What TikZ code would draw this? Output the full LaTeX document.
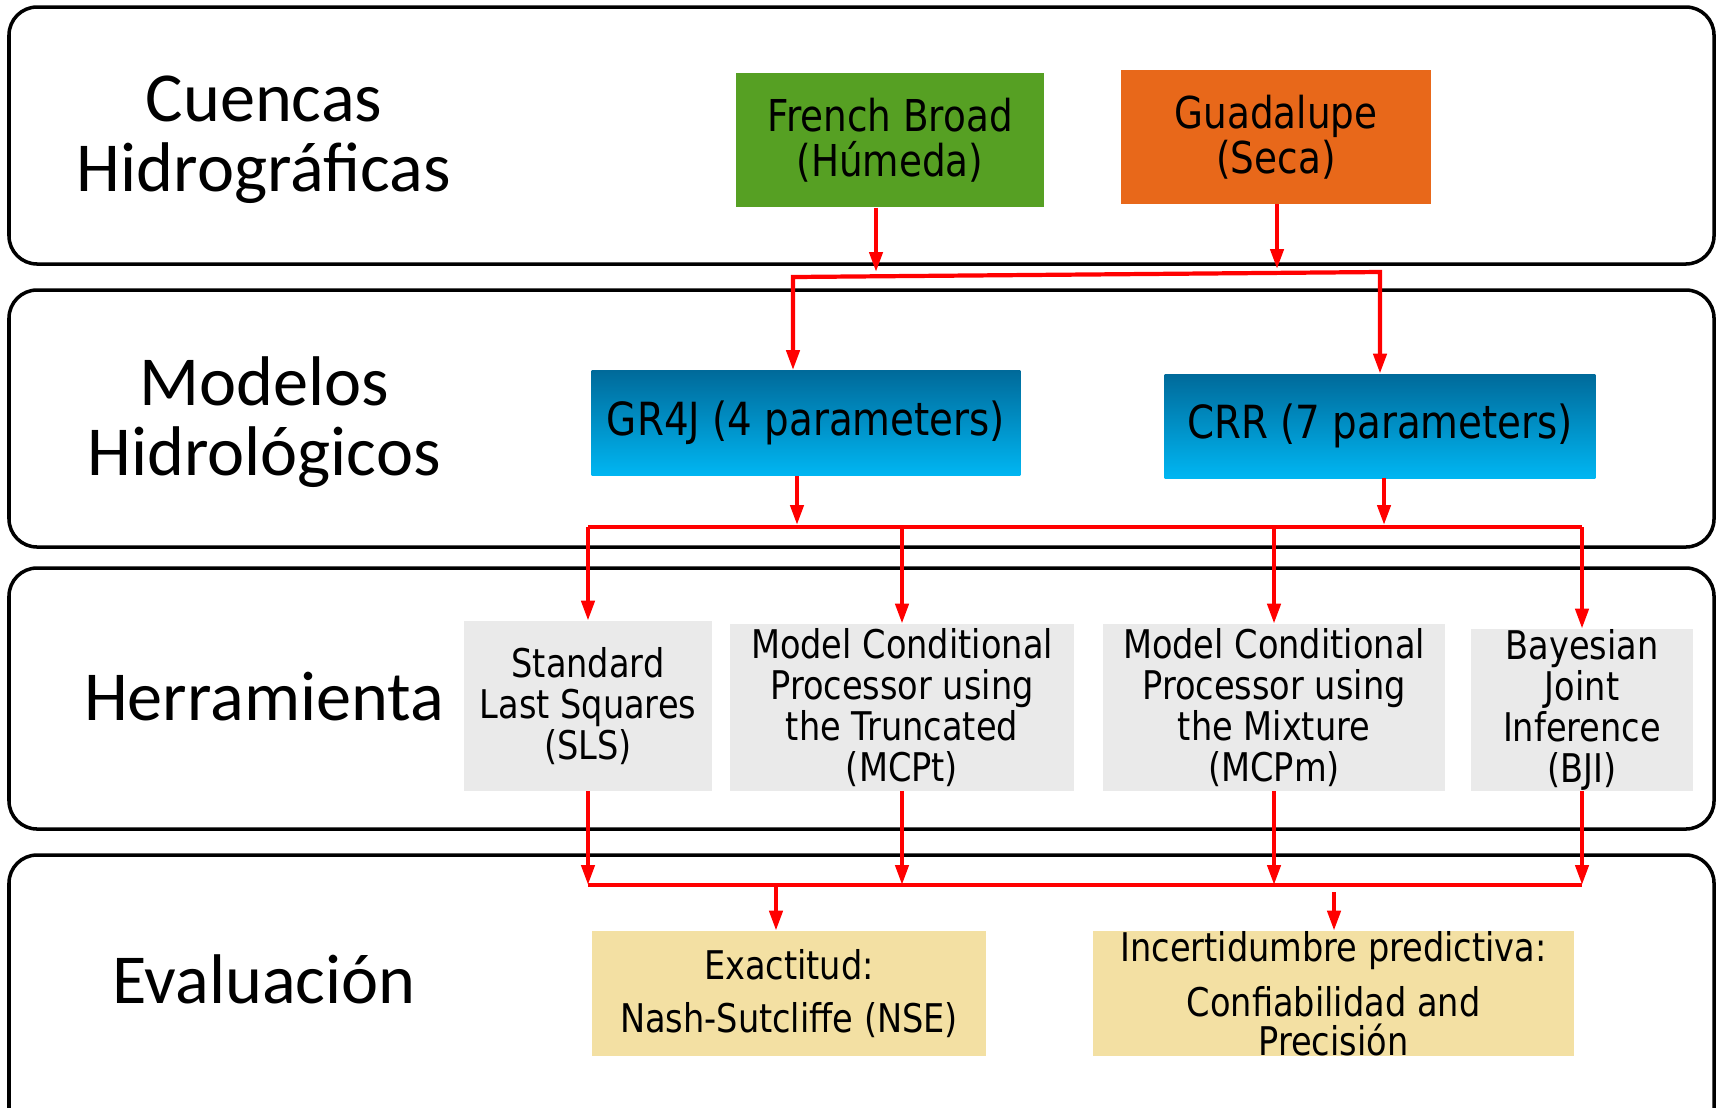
\documentclass[tikz,border=0pt]{standalone}
\usepackage{fontspec}
\usetikzlibrary{arrows.meta}
\setmainfont{Carlito}
\newfontfamily\boxfont[FakeStretch=0.85]{DejaVu Sans}
\definecolor{humeda}{RGB}{86,160,35}
\definecolor{seca}{RGB}{232,104,26}
\definecolor{modtop}{RGB}{0,106,154}
\definecolor{modbot}{RGB}{0,182,242}
\definecolor{toolgray}{RGB}{234,234,234}
\definecolor{evaltan}{RGB}{243,224,163}
\definecolor{flowred}{RGB}{255,0,0}

\begin{document}
\begin{tikzpicture}[x=0.02cm, y=-0.02cm]
        \tikzstyle{band}=[draw=black, line width=2pt, rounded corners=16pt]
        \tikzstyle{rowlabel}=[font=\fontsize{40}{40}\selectfont, align=center, inner sep=0pt]
        \tikzstyle{box}=[inner sep=0pt, align=center, font=\boxfont\fontsize{25}{25.5}\selectfont]
        \tikzstyle{model}=[box, top color=modtop, bottom color=modbot, font=\boxfont\fontsize{26}{28}\selectfont]
        \tikzstyle{tool}=[box, fill=toolgray, font=\boxfont\fontsize{22.5}{23.2}\selectfont]
        \tikzstyle{eval}=[box, fill=evaltan, font=\boxfont\fontsize{22.5}{22}\selectfont]
        \tikzstyle{flow}=[draw=flowred, line width=2.4pt]
        \tikzstyle{flowarrow}=[flow, -{Triangle[length=4mm,width=2.6mm]}]
        \useasboundingbox (0,0) rectangle (1723,1107);
        % bands
        \draw[band] (9,7) rectangle (1714,264);
        \draw[band] (9,290) rectangle (1714,547);
        \draw[band] (9,568) rectangle (1714,829);
        \draw[band] (9,855) rectangle (1714,1180);
        \node[rowlabel] (cuencas) at (264,140) {Cuencas\\Hidrográficas};
        \node[rowlabel] (modelos) at (264,422) {Modelos\\Hidrológicos};
        \node[rowlabel] (herram) at (264,697) {Herramienta};
        \node[rowlabel] (evalua) at (264,979) {Evaluación};
        % boxes
        \node[box, fill=humeda, minimum width=6.18cm, minimum height=2.7cm] (fb) at (890,140) {French Broad\\(Húmeda)};
        \node[box, fill=seca, minimum width=6.2cm, minimum height=2.68cm] (gu) at (1276,137) {Guadalupe\\(Seca)};
        \node[model, minimum width=8.58cm, minimum height=2.1cm] (gr4j) at (806,423) {GR4J (4 parameters)};
        \node[model, minimum width=8.62cm, minimum height=2.08cm] (crr) at (1380,426) {CRR (7 parameters)};
        \node[tool, minimum width=4.98cm, minimum height=3.4cm] (sls) at (588,706) {Standard\\Last Squares\\(SLS)};
        \node[tool, minimum width=6.88cm, minimum height=3.34cm] (mcpt) at (902,707.5) {Model Conditional\\Processor using\\the Truncated\\(MCPt)};
        \node[tool, minimum width=6.86cm, minimum height=3.34cm] (mcpm) at (1274,707.5) {Model Conditional\\Processor using\\the Mixture\\(MCPm)};
        \node[tool, minimum width=4.44cm, minimum height=3.24cm] (bji) at (1582,710) {Bayesian\\Joint\\Inference\\(BJI)};
        \node[eval, minimum width=7.88cm, minimum height=2.5cm] (exa) at (789,993.5) {Exactitud:\\[8.6pt]Nash-Sutcliffe (NSE)};
        \node[eval, minimum width=9.62cm, minimum height=2.5cm] (inc) at (1333.5,993.5) {Incertidumbre predictiva:\\[9.7pt]Confiabilidad and\\Precisión};
        % junctions
        \coordinate (fbtip) at (876,272);
        \coordinate (gutip) at (1277,269);
        \coordinate (bus1l) at (793,277);
        \coordinate (bus1r) at (1380,272);
        \coordinate (grtip) at (797,525);
        \coordinate (crrtip) at (1384,525);
        \coordinate (bus2l) at (588,527);
        \coordinate (bus2r) at (1582,527);
        \coordinate (bus3l) at (588,885);
        \coordinate (bus3r) at (1582,885);
        \coordinate (exafrom) at (776,885);
        \coordinate (incfrom) at (1334,892);
        % connectors
        \draw[flowarrow] (fb.south -| fbtip) -- (fbtip);
        \draw[flowarrow] (gu.south -| gutip) -- (gutip);
        \draw[flow, {Triangle[length=4mm,width=2.6mm]}-{Triangle[length=4mm,width=2.6mm]}]
                (gr4j.north -| bus1l) -- (bus1l) -- (bus1r) -- (crr.north -| bus1r);
        \draw[flowarrow] (gr4j.south -| grtip) -- (grtip);
        \draw[flowarrow] (crr.south -| crrtip) -- (crrtip);
        \draw[flow] (bus2l) -- (bus2r);
        \foreach \t in {sls,mcpt,mcpm,bji} {
                \draw[flowarrow] (\t.north |- bus2l) -- (\t.north);
                \draw[flowarrow] (\t.south) -- (\t.south |- bus3l);
        }
        \draw[flow] (bus3l) -- (bus3r);
        \draw[flowarrow] (exafrom) -- (exafrom |- exa.north);
        \draw[flowarrow] (incfrom) -- (incfrom |- inc.north);
\end{tikzpicture}
\end{document}
